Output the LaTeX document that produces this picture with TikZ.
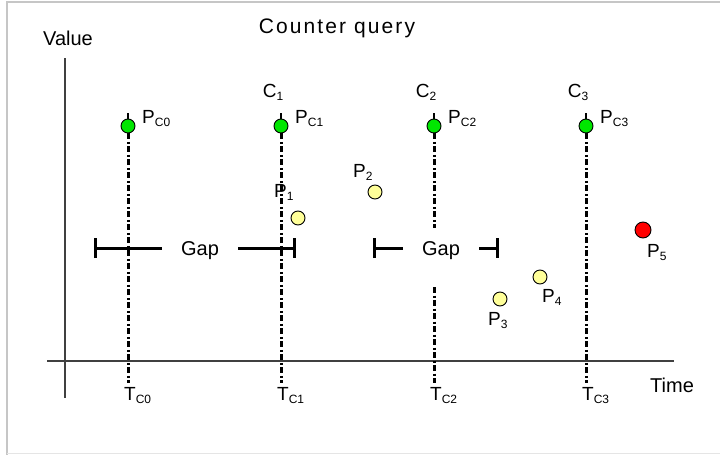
\documentclass[tikz,border=0pt]{standalone}
\usepackage{fontspec}
\setmainfont{Liberation Sans}
\usetikzlibrary{calc,arrows.meta,positioning}
\definecolor{cgreen}{RGB}{0,230,0}
\definecolor{pyellow}{RGB}{255,255,153}
\newcommand{\lowidx}[1]{\raisebox{-3pt}{\fontsize{12}{12}\selectfont #1}}

\begin{document}
\begin{tikzpicture}[x=1pt,y=-1pt]
	\path [use as bounding box] (0,0) rectangle (720,455);
	\tikzstyle{lbl} = [inner sep=0pt, font=\fontsize{19}{21}\selectfont]
	\tikzstyle{cdot} = [circle, fill=cgreen, draw, line width=0.9pt, inner sep=0pt, minimum size=14pt]
	\tikzstyle{pdot} = [circle, fill=pyellow, draw, line width=0.9pt, inner sep=0pt, minimum size=14pt]
	\tikzstyle{dashdot} = [line width=3pt, dash pattern=on 6pt off 2.5pt on 2pt off 2.5pt]
	\tikzstyle{gapbar} = [line width=3pt]
	% frame
	\draw[gray!45, line width=1.5pt] (7,455) -- (7,2) -- (720,2);
	\draw[gray!20, line width=1pt] (7,453) -- (720,453);
	% axes
	\coordinate (ytop) at (65,58);
	\coordinate (ybot) at (65,398);
	\coordinate (xl) at (47,361);
	\coordinate (xr) at (674,361);
	\draw[line width=1.5pt, black!75] (ytop) -- (ybot);
	\draw[line width=1.5pt, black!75] (xl) -- (xr);
	\node[lbl, anchor=base west, font=\fontsize{20}{22}\selectfont] (value) at (43,45) {Value};
	\node[lbl, anchor=base west, font=\fontsize{20}{22}\selectfont] (time) at (650,392) {Time};
	\node[lbl, anchor=base, font=\fontsize{21}{24}\selectfont\addfontfeature{LetterSpace=10}] (title) at (337,33) {Counter query};
	% counter points
	\foreach \i/\x in {0/128,1/281,2/434,3/586} {
		\coordinate (top\i) at (\x,113);
		\coordinate (bot\i) at (\x,383);
		\node[cdot] (pc\i) at (\x,126) {};
		\node[lbl, anchor=base west] (lpc\i) at (\x+14,123) {P\lowidx{C\i}};
		\node[lbl, anchor=base west] (tc\i) at (\x-4,400) {T\lowidx{C\i}};
		\draw[line width=2.5pt] (top\i) -- (pc\i.north);
	}
	\foreach \i/\x in {1/281,2/434,3/586}
		\node[lbl, anchor=base] (cl\i) at (\x-8,97) {C\lowidx{\i}};
	\draw[dashdot] (pc0.south) -- (bot0);
	\draw[dashdot] (pc1.south) -- (bot1);
	\draw[dashdot] (pc3.south) -- (bot3);
	\coordinate (brk2a) at (434,228);
	\coordinate (brk2b) at (434,287);
	\draw[dashdot] (pc2.south) -- (brk2a);
	\draw[dashdot] (brk2b) -- (bot2);
	% gaps
	\coordinate (gl1) at (94,248);
	\coordinate (gr1) at (296,248);
	\coordinate (gl2) at (373,248);
	\coordinate (gr2) at (499,248);
	\node[lbl, inner xsep=19pt, text height=14.5pt, text depth=0pt, font=\fontsize{20}{22}\selectfont] (gap1) at (200,248) {Gap};
	\node[lbl, inner xsep=19pt, text height=14.5pt, text depth=0pt, font=\fontsize{20}{22}\selectfont] (gap2) at (441,248) {Gap};
	\draw[gapbar, {Bar[width=20pt]}-] (gl1) -- (gap1.west);
	\draw[gapbar, -{Bar[width=20pt]}] (gap1.east) -- (gr1);
	\draw[gapbar, {Bar[width=20pt]}-] (gl2) -- (gap2.west);
	\draw[gapbar, -{Bar[width=20pt]}] (gap2.east) -- (gr2);
	% other points
	\node[pdot] (p1) at (298,218) {};
	\node[pdot] (p2) at (375,192) {};
	\node[pdot] (p3) at (500,299) {};
	\node[pdot] (p4) at (540,277) {};
	\node[pdot, fill=red, minimum size=16pt] (p5) at (643,230) {};
	\node[lbl, anchor=base west] (lp1) at (274,197) {P\lowidx{1}};
	\node[lbl, anchor=base west] (lp2) at (353,177) {P\lowidx{2}};
	\node[lbl, anchor=base west] (lp3) at (488,325) {P\lowidx{3}};
	\node[lbl, anchor=base west] (lp4) at (542,302) {P\lowidx{4}};
	\node[lbl, anchor=base west] (lp5) at (647,257) {P\lowidx{5}};
\end{tikzpicture}
\end{document}
